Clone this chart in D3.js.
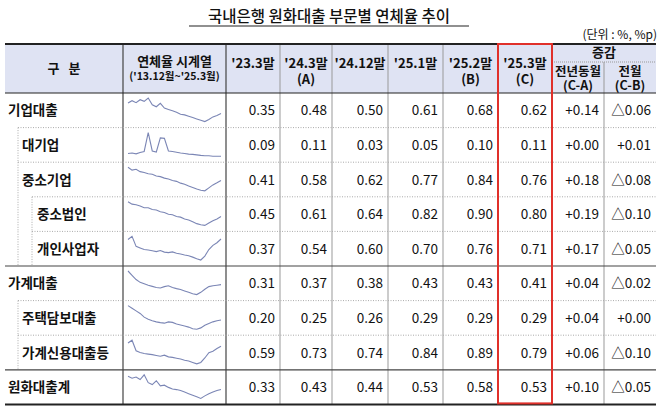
<!DOCTYPE html>
<html>
  <head>
    <meta charset="utf-8">
    <script src="https://cdn.jsdelivr.net/npm/d3@7"></script>
    <style>
      body { margin: 0; background: #fff; }
      text { font-family: "Noto Sans CJK KR", "Noto Sans", sans-serif; fill: #111; }
    </style>
  </head>
  <body>
    <svg id="tbl" width="658" height="406"></svg>
    <script>
      // rows: label, indent level, top-level group start
      var labels = ["기업대출", "대기업", "중소기업", "중소법인", "개인사업자", "가계대출", "주택담보대출", "가계신용대출등", "원화대출계"];
      var levels = [0, 1, 1, 2, 2, 0, 1, 1, 0];
      var colHeads = [["'23.3말"], ["'24.3말", "(A)"], ["'24.12말"], ["'25.1말"], ["'25.2말", "(B)"], ["'25.3말", "(C)"]];
      var diffHeads = [["전년동월", "(C-A)"], ["전월", "(C-B)"]];
      var values = [
        ["0.35", "0.48", "0.50", "0.61", "0.68", "0.62", "+0.14", "△0.06"],
        ["0.09", "0.11", "0.03", "0.05", "0.10", "0.11", "+0.00", "+0.01"],
        ["0.41", "0.58", "0.62", "0.77", "0.84", "0.76", "+0.18", "△0.08"],
        ["0.45", "0.61", "0.64", "0.82", "0.90", "0.80", "+0.19", "△0.10"],
        ["0.37", "0.54", "0.60", "0.70", "0.76", "0.71", "+0.17", "△0.05"],
        ["0.31", "0.37", "0.38", "0.43", "0.43", "0.41", "+0.04", "△0.02"],
        ["0.20", "0.25", "0.26", "0.29", "0.29", "0.29", "+0.04", "+0.00"],
        ["0.59", "0.73", "0.74", "0.84", "0.89", "0.79", "+0.06", "△0.10"],
        ["0.33", "0.43", "0.44", "0.53", "0.58", "0.53", "+0.10", "△0.05"]
      ];
      // sparkline series ('13.12 ~ '25.3), rough readings, relative scale
      var sCorp = [0.85,0.92,0.86,0.95,0.9,1.0,0.8,0.74,0.84,0.7,0.66,0.62,0.58,0.52,0.5,0.46,0.42,0.38,0.34,0.3,0.36,0.44,0.48,0.54];
      var sLarge = [0.2,0.22,0.19,0.24,0.28,1.0,0.3,0.26,0.8,0.78,0.3,0.28,0.25,0.22,0.2,0.18,0.17,0.15,0.13,0.12,0.12,0.1,0.1,0.1];
      var sSme = [1.0,0.9,0.93,0.85,0.82,0.78,0.76,0.7,0.68,0.63,0.6,0.55,0.52,0.46,0.42,0.36,0.31,0.26,0.22,0.2,0.3,0.4,0.47,0.55];
      var sSmeCorp = [1.0,0.92,0.9,0.86,0.8,0.8,0.74,0.72,0.66,0.64,0.58,0.56,0.5,0.48,0.42,0.38,0.32,0.26,0.22,0.2,0.28,0.36,0.42,0.5];
      var sSelf = [0.88,1.0,0.62,0.56,0.5,0.48,0.45,0.42,0.46,0.4,0.38,0.41,0.36,0.33,0.29,0.26,0.21,0.15,0.1,0.25,0.5,0.66,0.76,0.9];
      var sHouse = [1.0,0.85,0.7,0.6,0.55,0.5,0.46,0.42,0.4,0.45,0.48,0.42,0.38,0.35,0.3,0.25,0.2,0.17,0.25,0.36,0.45,0.48,0.5,0.52];
      var sMort = [1.0,0.9,0.8,0.7,0.56,0.48,0.42,0.38,0.35,0.33,0.38,0.36,0.3,0.26,0.22,0.18,0.12,0.1,0.15,0.25,0.32,0.38,0.42,0.45];
      var sCredit = [0.9,1.0,0.62,0.56,0.52,0.5,0.48,0.45,0.42,0.46,0.4,0.38,0.35,0.32,0.28,0.25,0.2,0.15,0.2,0.36,0.55,0.6,0.7,0.78];
      var sTotal = [0.9,0.84,0.88,0.8,0.95,0.7,0.64,0.76,0.6,0.62,0.55,0.5,0.48,0.45,0.4,0.35,0.3,0.25,0.2,0.28,0.35,0.4,0.45,0.48];
      var sparks = [sCorp, sLarge, sSme, sSmeCorp, sSelf, sHouse, sMort, sCredit, sTotal];

      var svg = d3.select("#tbl");
      var xs = [5, 123, 226, 280, 332, 388, 443, 498, 552, 604, 656];
      var tblTop = 44, headBot = 93, rowH = 34.6;
      var yRow = i => headBot + i * rowH;

      // title
      svg.append("text").attr("x", 329).attr("y", 22).attr("text-anchor", "middle")
        .attr("font-size", 15.5).attr("font-weight", 500).text("국내은행 원화대출 부문별 연체율 추이");
      svg.append("line").attr("x1", 189).attr("x2", 469).attr("y1", 26).attr("y2", 26)
        .attr("stroke", "#222").attr("stroke-width", 1.2);
      svg.append("text").attr("x", 657).attr("y", 39).attr("text-anchor", "end")
        .attr("font-size", 12).attr("fill", "#333").text("(단위 : %, %p)");

      // header fill
      svg.append("rect").attr("x", xs[0]).attr("y", tblTop).attr("width", xs[10] - xs[0])
        .attr("height", headBot - tblTop).attr("fill", "#dfe3f3");

      var hd = (x, y, t, fs) => svg.append("text").attr("x", x).attr("y", y).attr("text-anchor", "middle")
        .attr("font-size", fs || 13).attr("font-weight", 700).text(t);
      hd((xs[0] + xs[1]) / 2, 73, "구   분").attr("xml:space", "preserve");
      hd((xs[1] + xs[2]) / 2, 66, "연체율 시계열");
      hd((xs[1] + xs[2]) / 2, 80, "('13.12월~'25.3월)", 10.5);
      colHeads.forEach((h, i) => {
        var cx = (xs[i + 2] + xs[i + 3]) / 2;
        h.forEach((t, j) => hd(cx, 68 + j * 16, t));
      });
      hd((xs[8] + xs[10]) / 2, 57, "증감");
      diffHeads.forEach((h, i) => {
        var cx = (xs[i + 8] + xs[i + 9]) / 2;
        h.forEach((t, j) => hd(cx, 76 + j * 14, t, 12.5));
      });
      svg.append("line").attr("x1", xs[8]).attr("x2", xs[10]).attr("y1", 62).attr("y2", 62)
        .attr("stroke", "#999").attr("stroke-dasharray", "1,1");

      // vertical lines
      xs.slice(1, 10).forEach((x, i) => {
        svg.append("line").attr("x1", x).attr("x2", x).attr("y1", i === 8 ? 62 : tblTop).attr("y2", yRow(9))
          .attr("stroke", i < 2 ? "#444" : "#999").attr("stroke-width", i < 2 ? 1.2 : 1);
      });

      // row separators and indent guides
      var indentX = [xs[0], 18, 32];
      labels.forEach((lab, i) => {
        var y = yRow(i);
        if (i > 0) {
          var solid = levels[i] === 0;
          var x0 = solid ? xs[0] : indentX[levels[i]];
          svg.append("line").attr("x1", x0).attr("x2", xs[10]).attr("y1", y).attr("y2", y)
            .attr("stroke", solid ? "#444" : "#aaa").attr("stroke-width", solid ? 1.2 : 1)
            .attr("stroke-dasharray", solid ? null : "1,1.5");
        }
        if (levels[i] > 0) {
          for (var l = 1; l <= levels[i]; l++) {
            svg.append("line").attr("x1", indentX[l]).attr("x2", indentX[l]).attr("y1", y).attr("y2", y + rowH)
              .attr("stroke", "#aaa").attr("stroke-dasharray", "1,1.5");
          }
        }
        svg.append("text").attr("x", [8, 22, 37][levels[i]]).attr("y", y + rowH / 2 + 5)
          .attr("font-size", 13.5).attr("font-weight", 700).text(lab);

        // sparkline
        var ser = sparks[i];
        var sx = d3.scaleLinear().domain([0, ser.length - 1]).range([xs[1] + 5, xs[2] - 5]);
        var sy = d3.scaleLinear().domain(d3.extent(ser)).range([y + rowH - 6, y + 5]);
        svg.append("path").attr("d", d3.line().x((d, k) => sx(k)).y(d => sy(d))(ser))
          .attr("fill", "none").attr("stroke", "#7b86b5").attr("stroke-width", 1.1);

        values[i].forEach((v, k) => {
          svg.append("text").attr("x", xs[k + 3] - 5).attr("y", y + rowH / 2 + 5)
            .attr("text-anchor", "end").attr("font-size", 13.5).attr("font-family", "'Open Sans', sans-serif").text(v);
        });
      });

      // outer top/bottom borders
      svg.append("line").attr("x1", xs[0]).attr("x2", xs[10]).attr("y1", tblTop).attr("y2", tblTop).attr("stroke", "#222").attr("stroke-width", 2);
      svg.append("line").attr("x1", xs[0]).attr("x2", xs[10]).attr("y1", headBot).attr("y2", headBot).attr("stroke", "#222").attr("stroke-width", 1.2);
      svg.append("line").attr("x1", xs[0]).attr("x2", xs[10]).attr("y1", yRow(9)).attr("y2", yRow(9)).attr("stroke", "#222").attr("stroke-width", 2);

      // red highlight box on '25.3 column
      svg.append("rect").attr("x", xs[7]).attr("y", tblTop).attr("width", xs[8] - xs[7])
        .attr("height", yRow(9) - tblTop - 1).attr("fill", "none").attr("stroke", "#e0302a").attr("stroke-width", 2);
    </script>
  </body>
</html>
